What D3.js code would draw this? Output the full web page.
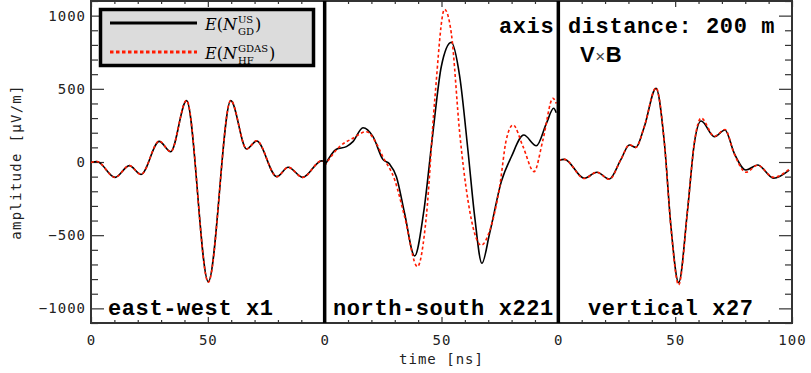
<!DOCTYPE html>
<html><head><meta charset="utf-8">
<script src="https://cdn.jsdelivr.net/npm/d3@7"></script>
<style>
html,body{margin:0;padding:0;background:#fff;}
svg{display:block;}
</style></head>
<body>
<svg id="chart" width="811" height="373"></svg>
<script>
// ---------- DATA ----------
const panelNames = ["east-west x1", "north-south x221", "vertical x27"];
const seriesNames = ["US_GD", "GDAS_HF"];

// east-west (panel 1)
const ewTimeUS = [0, 2.5, 10.3, 16.4, 21.4, 29.2, 34.1, 40.9, 50.2, 59.8, 66.6, 70.9, 79.5, 84.4, 90.6, 98.7, 100];
const ewUS     = [-3, 3, -105, -25, -85, 141, 70, 419, -818, 419, 89, 143, -100, -36, -105, 8, 0];
const ewTimeHF = [0, 2.5, 10.3, 16.4, 21.4, 29.2, 34.1, 40.9, 50.2, 59.8, 66.6, 70.9, 79.5, 84.4, 90.6, 98.7, 100];
const ewHF     = [-3, 3, -105, -25, -85, 143, 70, 421, -822, 421, 89, 145, -100, -36, -105, 8, 0];

// north-south (panel 2)
const nsTimeUS = [0, 5, 9.3, 12.1, 16.4, 20.7, 24.9, 27.8, 30.7, 34.2, 38.5, 42.3, 46.3, 49.9, 54.2, 57.8, 61.3, 64.2, 67.3, 70.6, 75.6, 79.9, 85.2, 90.6, 94.9, 98, 99.1];
const nsUS     = [-25, 87, 105, 139, 234, 173, 18, -14, -100, -350, -642, -350, 196, 651, 817, 583, 82, -373, -692, -487, -134, 36, 184, 111, 264, 367, 337];
const nsTimeHF = [0, 6.4, 12.1, 17.8, 22.1, 24.9, 30, 34.2, 39.7, 43.5, 47.1, 51.3, 54.2, 57.8, 61.3, 67, 70.6, 74.9, 77.7, 80.6, 84.9, 89.6, 93.4, 97.7, 99.1];
const nsHF     = [-25, 105, 162, 207, 128, 36, -123, -373, -715, -373, 423, 1043, 879, 196, -260, -568, -470, -168, 150, 253, 105, -66, 150, 435, 400];

// vertical (panel 3)
const vtTimeUS = [0, 2.6, 11.1, 16.5, 21.8, 26.7, 30.4, 33.2, 36.8, 41.8, 45.4, 48.2, 51.5, 55.3, 58.2, 61.1, 66.8, 71.3, 75.3, 80.3, 85.3, 92.1, 98.8];
const vtUS     = [10, 18, -111, -70, -116, 14, 116, 100, 241, 503, 128, -442, -824, -328, 128, 280, 173, 219, 59, -55, -20, -111, -55];
const vtTimeHF = [0, 2.6, 11.1, 16.5, 21.8, 26.7, 30.4, 33.2, 36.8, 41.8, 45.4, 48.2, 51.5, 55.3, 58.2, 61.1, 66.8, 71.3, 75.3, 80.3, 85.3, 92.1, 98.8];
const vtHF     = [10, 18, -113, -70, -118, 14, 118, 100, 243, 507, 128, -448, -840, -330, 132, 300, 175, 222, 55, -70, -22, -105, -50];

// axis ticks
const yMajorTicks = [-1000, -500, 0, 500, 1000];
const xMajorTicks = [0, 50, 100, 150, 200, 250, 300];
const xTickLabels = ["0", "50", "0", "50", "0", "50", "100"];

// ---------- CHART ----------
const svg = d3.select("#chart");
const pLeft = 91, pRight = 792, pTop = 1, pBottom = 323;
const x = d3.scaleLinear().domain([0, 300]).range([pLeft, pRight]);
const y = d3.scaleLinear().domain([-1100, 1100]).range([pBottom, pTop]);

const axisColor = "#333";
const monoFont = "'DejaVu Sans Mono', monospace";

const yMinor = d3.range(-1100, 1101, 100).filter(v => !yMajorTicks.includes(v));
const xMinor = d3.range(0, 301, 10).filter(v => !xMajorTicks.includes(v));

function styleAxis(g) {
  g.select(".domain").remove();
  g.selectAll(".tick line").attr("stroke", axisColor).attr("stroke-width", 1.2);
  g.selectAll(".tick text").attr("fill", "#222").style("font-family", monoFont)
    .style("font-size", "14px").style("letter-spacing", "1px");
}

// left axis
svg.append("g").attr("transform", `translate(${pLeft},0)`)
  .call(d3.axisLeft(y).tickValues(yMajorTicks).tickSize(-13).tickSizeOuter(0).tickPadding(5).tickFormat(d3.format("d")))
  .call(styleAxis);
svg.append("g").attr("transform", `translate(${pLeft},0)`)
  .call(d3.axisLeft(y).tickValues(yMinor).tickSize(-7).tickSizeOuter(0).tickFormat(""))
  .call(styleAxis);
// right axis
svg.append("g").attr("transform", `translate(${pRight},0)`)
  .call(d3.axisRight(y).tickValues(yMajorTicks).tickSize(-13).tickSizeOuter(0).tickFormat(""))
  .call(styleAxis);
svg.append("g").attr("transform", `translate(${pRight},0)`)
  .call(d3.axisRight(y).tickValues(yMinor).tickSize(-7).tickSizeOuter(0).tickFormat(""))
  .call(styleAxis);
// bottom axis
svg.append("g").attr("transform", `translate(0,${pBottom})`)
  .call(d3.axisBottom(x).tickValues(xMajorTicks).tickSize(-6).tickSizeOuter(0).tickPadding(12)
    .tickFormat((d, i) => xTickLabels[i]))
  .call(styleAxis);
svg.append("g").attr("transform", `translate(0,${pBottom})`)
  .call(d3.axisBottom(x).tickValues(xMinor).tickSize(-3).tickSizeOuter(0).tickFormat(""))
  .call(styleAxis);
// top axis
svg.append("g").attr("transform", `translate(0,${pTop})`)
  .call(d3.axisTop(x).tickValues(xMajorTicks).tickSize(-6).tickSizeOuter(0).tickFormat(""))
  .call(styleAxis);
svg.append("g").attr("transform", `translate(0,${pTop})`)
  .call(d3.axisTop(x).tickValues(xMinor).tickSize(-3).tickSizeOuter(0).tickFormat(""))
  .call(styleAxis);

// frame
svg.append("rect").attr("x", pLeft).attr("y", pTop).attr("width", pRight - pLeft).attr("height", pBottom - pTop)
  .attr("fill", "none").attr("stroke", axisColor).attr("stroke-width", 2);

// curves
const panels = [
  {tu: ewTimeUS, us: ewUS, th: ewTimeHF, hf: ewHF, off: 0},
  {tu: nsTimeUS, us: nsUS, th: nsTimeHF, hf: nsHF, off: 100},
  {tu: vtTimeUS, us: vtUS, th: vtTimeHF, hf: vtHF, off: 200}
];
panels.forEach(p => {
  const line = d3.line().x(d => x(d[0] + p.off)).y(d => y(d[1])).curve(d3.curveMonotoneX);
  svg.append("path").datum(p.tu.map((t, i) => [t, p.us[i]]))
    .attr("d", line).attr("fill", "none").attr("stroke", "#000").attr("stroke-width", 1.6);
  svg.append("path").datum(p.th.map((t, i) => [t, p.hf[i]]))
    .attr("d", line).attr("fill", "none").attr("stroke", "#ff1a00").attr("stroke-width", 1.6)
    .attr("stroke-dasharray", "3,2.5");
});

// panel separators
[100, 200].forEach(v => {
  svg.append("line").attr("x1", x(v)).attr("x2", x(v)).attr("y1", pTop).attr("y2", pBottom)
    .attr("stroke", "#000").attr("stroke-width", 3.5);
});

// panel labels
const boldMono = "'Liberation Mono', 'Courier New', monospace";
const labelX = [108, 333, 588];
panelNames.forEach((n, i) => {
  svg.append("text").attr("x", labelX[i]).attr("y", 315).text(n)
    .style("font-family", boldMono).style("font-weight", "bold").style("font-size", "22px")
    .style("letter-spacing", "0.6px").attr("fill", "#000");
});

// annotation
svg.append("text").attr("x", 499).attr("y", 33).text("axis distance: 200 m")
  .style("font-family", boldMono).style("font-weight", "bold").style("font-size", "22px")
  .style("letter-spacing", "0.6px").attr("fill", "#000");
const vxb = svg.append("text").attr("x", 580).attr("y", 62)
  .style("font-family", "'Liberation Sans', Arial, sans-serif").style("font-size", "22px").attr("fill", "#000");
vxb.append("tspan").text("V").style("font-weight", "bold");
vxb.append("tspan").text("×").style("font-size", "17px").attr("fill", "#444").attr("dx", 0.5);
vxb.append("tspan").text("B").style("font-weight", "bold").attr("dx", 0.5);

// axis titles
svg.append("text").attr("x", (pLeft + pRight) / 2).attr("y", 364).attr("text-anchor", "middle")
  .text("time [ns]").style("font-family", monoFont).style("font-size", "14px").style("letter-spacing", "1px").attr("fill", "#222");
svg.append("text").attr("transform", `translate(21,${(pTop + pBottom) / 2}) rotate(-90)`).attr("text-anchor", "middle")
  .text("amplitude [µV/m]").style("font-family", monoFont).style("font-size", "14px").style("letter-spacing", "1.3px").attr("fill", "#222");

// legend
const lg = svg.append("g");
lg.append("rect").attr("x", 100.5).attr("y", 9.5).attr("width", 213).attr("height", 56)
  .attr("fill", "#dcdcdc").attr("stroke", "#000").attr("stroke-width", 3.5);
const legendItems = [
  {sup: "US", sub: "GD", color: "#000", dash: null, y: 23},
  {sup: "GDAS", sub: "HF", color: "#ff1a00", dash: "3.5,2.5", y: 52}
];
const serif = "'DejaVu Serif', serif";
legendItems.forEach(it => {
  lg.append("line").attr("x1", 110).attr("x2", 197).attr("y1", it.y).attr("y2", it.y)
    .attr("stroke", it.color).attr("stroke-width", 3).attr("stroke-dasharray", it.dash);
  const base = it.y + 7;
  const t = lg.append("text").attr("x", 205).attr("y", base).style("font-family", serif).style("font-size", "16px").attr("fill", "#000");
  t.append("tspan").text("E").style("font-style", "italic");
  t.append("tspan").text("(");
  t.append("tspan").text("N").style("font-style", "italic");
  const w = t.node().getComputedTextLength();
  const sx = 205 + w + 1;
  const sup = t.append("tspan").attr("x", sx).attr("y", base - 7.5).text(it.sup).style("font-size", "10px");
  const sub = t.append("tspan").attr("x", sx).attr("y", base + 4.5).text(it.sub).style("font-size", "10px");
  const w2 = Math.max(sup.node().getComputedTextLength(), sub.node().getComputedTextLength());
  t.append("tspan").attr("x", sx + w2 + 1).attr("y", base).text(")");
});
</script>
</body></html>
